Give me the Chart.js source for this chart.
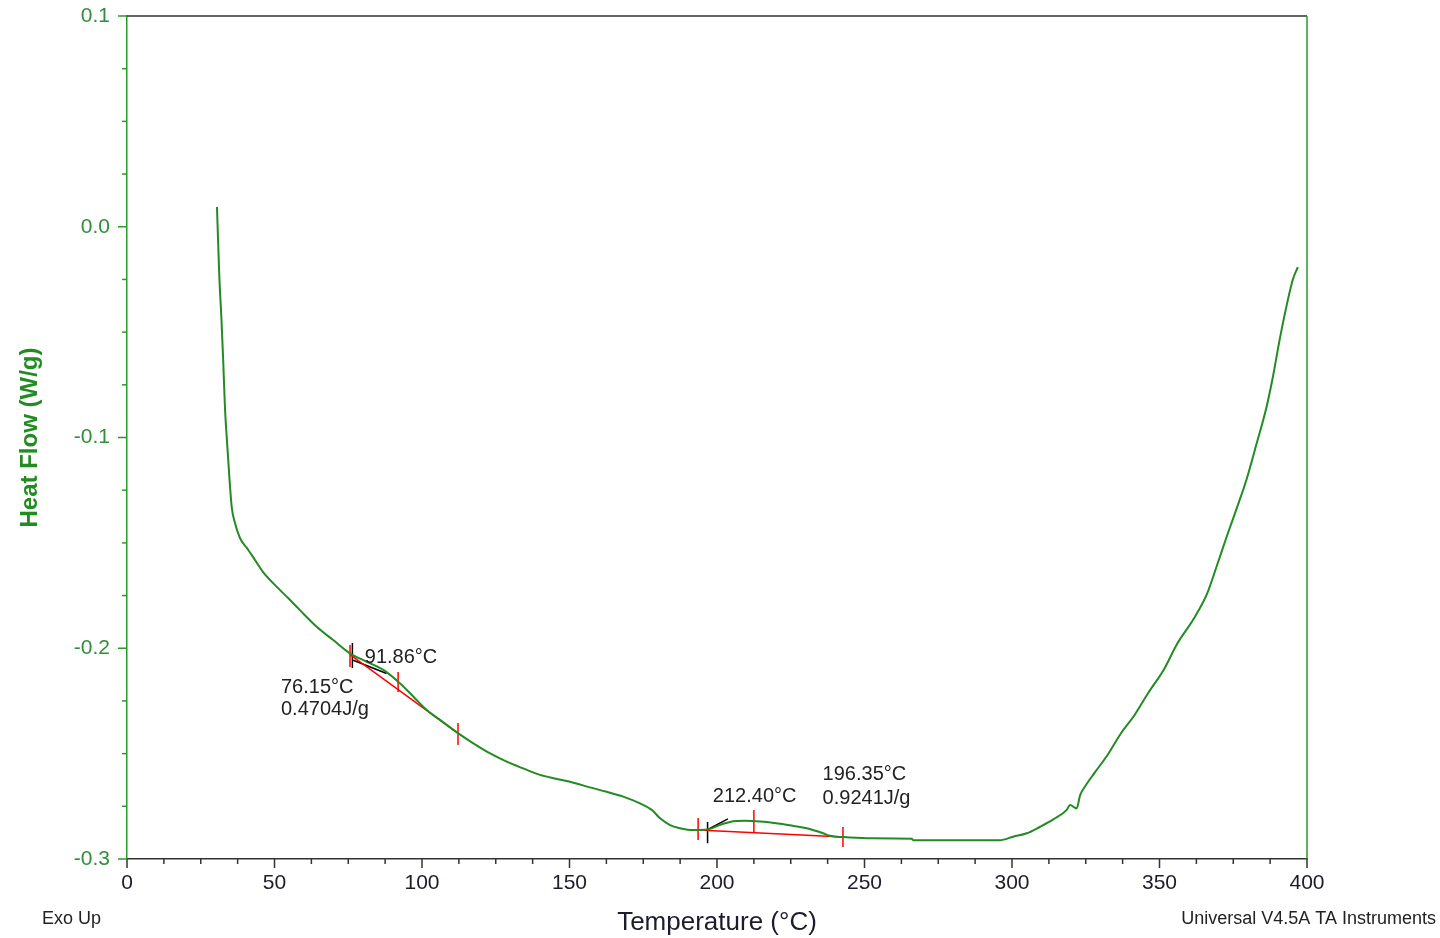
<!DOCTYPE html>
<html>
<head>
<meta charset="utf-8">
<script src="https://cdn.jsdelivr.net/npm/chart.js@4.4.1/dist/chart.umd.min.js"></script>
<style>
  html, body { margin: 0; padding: 0; background: #fff; }
  #wrap { width: 1440px; height: 938px; }
</style>
</head>
<body>
<div id="wrap"><canvas id="chart" width="1440" height="938"></canvas></div>
<script>
// Courbe DSC (température °C, flux W/g)
const tempC = [
  30.5, 31.3, 32.0, 32.6, 33.2, 33.8, 34.7, 35.5, 36.6, 38.3, 40.6, 42.3, 46.2,
  51.9, 54.7, 58.6, 64.3, 69.9, 75.6, 81.3, 86.9, 92.5, 97.1, 101.6, 106.1, 112.3,
  117.4, 123.1, 128.7, 134.3, 140.0, 145.7, 151.3, 156.9, 162.6, 168.2, 173.9, 177.9,
  180.7, 184.1, 187.5, 190.8, 194.2, 197.6, 201.0, 204.4, 209.5, 214.6, 221.4, 225.9,
  230.4, 236.0, 238.3, 242.8, 250.7, 266.0, 266.6, 295.9, 300.4, 305.0, 309.5, 314.0,
  318.5, 319.7, 321.9, 323.1, 324.7, 328.1, 332.5, 337.0, 341.5, 346.0, 351.6, 356.0,
  361.6, 366.1, 369.5, 372.8, 376.2, 379.5, 382.9, 386.2, 388.5, 390.7, 392.9, 395.2, 396.9
];
const heatFlow = [
  0.0094, -0.0238, -0.0433, -0.0632, -0.0855, -0.0998, -0.1188, -0.1330, -0.1406, -0.1477, -0.1524, -0.1558, -0.1640,
  -0.1724, -0.1763, -0.1819, -0.1898, -0.1961, -0.2024, -0.2064, -0.2103, -0.2166, -0.2230, -0.2293, -0.2340, -0.2404,
  -0.2451, -0.2499, -0.2538, -0.2570, -0.2601, -0.2620, -0.2638, -0.2660, -0.2681, -0.2704, -0.2736, -0.2767,
  -0.2807, -0.2839, -0.2854, -0.2862, -0.2862, -0.2857, -0.2838, -0.2824, -0.2819, -0.2822, -0.2833, -0.2843,
  -0.2854, -0.2878, -0.2890, -0.2896, -0.2901, -0.2904, -0.2911, -0.2911, -0.2894, -0.2878, -0.2847, -0.2812,
  -0.2768, -0.2744, -0.2760, -0.2697, -0.2657, -0.2589, -0.2504, -0.2402, -0.2318, -0.2216, -0.2098, -0.1979,
  -0.1860, -0.1742, -0.1606, -0.1470, -0.1335, -0.1199, -0.1030, -0.0860, -0.0708, -0.0538, -0.0386, -0.0250, -0.0191
];

// Lignes de base d'intégration (rouge) : [x0, y0, x1, y1]
const baselines = [
  [75.6, -0.2030, 112.3, -0.2404],
  [193.6, -0.2862, 242.7, -0.2896]
];
// Tangentes d'onset (noir)
const tangents = [
  [76.7, -0.2057, 88.0, -0.2120],
  [196.6, -0.2862, 203.7, -0.2810]
];
// Petits repères verticaux : [x, yHaut, yBas]
const redMarks = [
  [75.6, -0.1985, -0.2089],
  [91.9, -0.2113, -0.2208],
  [112.2, -0.2355, -0.2459],
  [193.6, -0.2806, -0.2910],
  [212.5, -0.2768, -0.2872],
  [242.7, -0.2848, -0.2943]
];
const blackMarks = [
  [76.4, -0.1975, -0.2094],
  [196.8, -0.2825, -0.2925]
];
// Étiquettes d'analyse : [texte, x, y]
const peakLabels = [
  ["91.86°C", 80.6, -0.2042],
  ["76.15°C", 52.2, -0.2184],
  ["0.4704J/g", 52.2, -0.2289],
  ["212.40°C", 198.6, -0.2701],
  ["196.35°C", 235.8, -0.2597],
  ["0.9241J/g", 235.8, -0.2715]
];

const GREEN = "#228b22";
const AXIS_GREEN = "#2a9a2a";
const FONT = "'Liberation Sans', Arial, sans-serif";

function segments(list) {
  // une série de segments séparés par des trous (null)
  const pts = [];
  list.forEach(s => {
    pts.push({ x: s[0], y: s[1] }, { x: s[2], y: s[3] }, { x: s[2], y: null });
  });
  return pts;
}
function marks(list) {
  const pts = [];
  list.forEach(m => {
    pts.push({ x: m[0], y: m[1] }, { x: m[0], y: m[2] }, { x: m[0], y: null });
  });
  return pts;
}
function isMajor(v, step) {
  return Math.abs(v / step - Math.round(v / step)) < 1e-6;
}

const frame = {
  id: "frame",
  afterDraw(chart) {
    const { ctx, chartArea: a, scales } = chart;
    ctx.save();
    // cadre haut (noir) et droit (vert)
    ctx.lineWidth = 1.5;
    ctx.strokeStyle = "#333";
    ctx.beginPath(); ctx.moveTo(a.left, a.top); ctx.lineTo(a.right, a.top); ctx.stroke();
    ctx.strokeStyle = AXIS_GREEN;
    ctx.beginPath(); ctx.moveTo(a.right, a.top); ctx.lineTo(a.right, a.bottom); ctx.stroke();

    // graduations
    ctx.strokeStyle = "#333";
    scales.x.ticks.forEach(t => {
      const px = scales.x.getPixelForValue(t.value);
      const len = isMajor(t.value, 50) ? 9 : 5;
      ctx.beginPath(); ctx.moveTo(px, a.bottom); ctx.lineTo(px, a.bottom + len); ctx.stroke();
    });
    ctx.strokeStyle = AXIS_GREEN;
    scales.y.ticks.forEach(t => {
      const py = scales.y.getPixelForValue(t.value);
      const len = isMajor(t.value, 0.1) ? 9 : 5;
      ctx.beginPath(); ctx.moveTo(a.left, py); ctx.lineTo(a.left - len, py); ctx.stroke();
    });

    // textes d'analyse
    ctx.fillStyle = "#222";
    ctx.font = "20px " + FONT;
    ctx.textAlign = "left";
    ctx.textBaseline = "middle";
    peakLabels.forEach(([txt, x, y]) => {
      ctx.fillText(txt, scales.x.getPixelForValue(x), scales.y.getPixelForValue(y));
    });

    // mentions en pied
    ctx.font = "18px " + FONT;
    ctx.fillText("Exo Up", 42, 919);
    ctx.textAlign = "right";
    ctx.fillText("Universal V4.5A TA Instruments", 1436, 919);
    ctx.restore();
  }
};

new Chart(document.getElementById("chart"), {
  type: "line",
  data: {
    datasets: [
      {
        data: tempC.map((t, i) => ({ x: t, y: heatFlow[i] })),
        borderColor: GREEN, borderWidth: 2, pointRadius: 0,
        cubicInterpolationMode: "monotone"
      },
      { data: segments(baselines), borderColor: "#ff0000", borderWidth: 1.5, pointRadius: 0, spanGaps: false },
      { data: marks(redMarks), borderColor: "#ff0000", borderWidth: 1.5, pointRadius: 0, spanGaps: false },
      { data: segments(tangents), borderColor: "#000", borderWidth: 1.5, pointRadius: 0, spanGaps: false },
      { data: marks(blackMarks), borderColor: "#000", borderWidth: 1.5, pointRadius: 0, spanGaps: false }
    ]
  },
  options: {
    responsive: false,
    animation: false,
    devicePixelRatio: 1,
    layout: { padding: { top: 16, right: 133, left: 0, bottom: 0 } },
    plugins: { legend: { display: false }, tooltip: { enabled: false } },
    scales: {
      x: {
        type: "linear", min: 0, max: 400,
        grid: { drawOnChartArea: false, drawTicks: false },
        border: { color: "#333", width: 1.5 },
        ticks: {
          stepSize: 12.5, autoSkip: false, maxRotation: 0, padding: 12,
          color: "#1c1c2c", font: { family: FONT, size: 21 },
          callback: v => isMajor(v, 50) ? String(Math.round(v)) : ""
        },
        title: {
          display: true, text: "Temperature (°C)", color: "#1c1c2c",
          font: { family: FONT, size: 26 }, padding: { top: 6, bottom: 0 }
        },
        afterFit: s => { s.height = 79; s.paddingLeft = 0; s.paddingRight = 0; }
      },
      y: {
        type: "linear", min: -0.3, max: 0.1,
        grid: { drawOnChartArea: false, drawTicks: false },
        border: { color: AXIS_GREEN, width: 1.5 },
        ticks: {
          stepSize: 0.025, autoSkip: false, padding: 17,
          color: "#2f8f3a", font: { family: FONT, size: 21 },
          callback: v => isMajor(v, 0.1) ? (Math.abs(v) < 1e-9 ? "0.0" : v.toFixed(1)) : ""
        },
        title: {
          display: true, text: "Heat Flow (W/g)", color: GREEN,
          font: { family: FONT, size: 24, weight: "bold" }, padding: { top: 16, bottom: 0 }
        },
        afterFit: s => { s.width = 127; s.paddingTop = 0; s.paddingBottom = 0; }
      }
    }
  },
  plugins: [frame]
});
</script>
</body>
</html>
